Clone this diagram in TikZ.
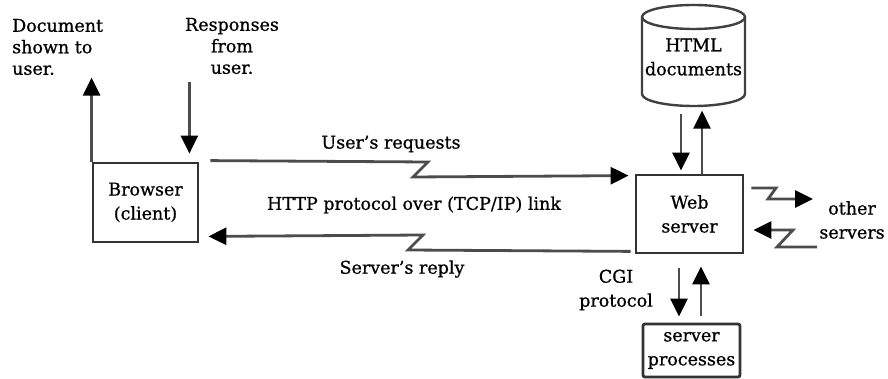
\documentclass[tikz,border=0pt]{standalone}
\usepackage{fontspec}
\setmainfont[FakeBold=0.8]{DejaVu Serif}
\usetikzlibrary{arrows.meta,calc}
\begin{document}
\begin{tikzpicture}[x=1pt,y=-1pt,
  txt/.style={font=\fontsize{17.5}{24}\selectfont, inner sep=0pt, align=center, text=black},
  txttop/.style={font=\fontsize{17.5}{21.5}\selectfont, inner sep=0pt, text=black},
  box/.style={draw=black!80, line width=2.8pt, inner sep=0pt},
  ln/.style={draw=black!70, line width=2.8pt},
  arr/.style={ln, -{Triangle[length=18pt,width=17pt,color=black]}}]
\useasboundingbox (0,0) rectangle (888,379);

% boxes
\node[box, txt, minimum width=105pt, minimum height=79pt] (browser) at (145.5,202.5) {Browser\\(client)};
\node[box, txt, minimum width=107pt, minimum height=78pt] (web) at (689.5,214) {Web\\server};
\node[box, txt, rounded corners=2pt, minimum width=97pt, minimum height=53pt] (procs) at (691.5,350.5) {server\\processes};

% cylinder
\draw[draw=black!75, line width=2.4pt] (693.5,17) ellipse [x radius=51.5pt, y radius=12pt];
\draw[draw=black!75, line width=2.4pt] (642,17) -- (642,94) arc[start angle=180, end angle=360, x radius=51.5pt, y radius=12pt] -- (745,17);
\node[txt, minimum width=103pt, minimum height=102pt] (html) at (693.5,57) {HTML\\documents};

% texts
\node[txttop, align=left, anchor=west] (txtdoc) at (12,47) {Document\\shown to\\user.};
\node[txttop, align=center] (txtresp) at (232,46) {Responses\\from\\user.};
\node[txt] (txtreq) at (391,144) {User's requests};
\node[txt] (txthttp) at (414,205) {HTTP protocol over (TCP/IP) link};
\node[txt] (txtreply) at (402,269) {Server's reply};
\node[txt] (txtcgi) at (616,290) {CGI\\protocol};
\node[txt] (txtother) at (852,220) {other\\servers};

% user arrows
\draw[arr] (browser.north west) -- ++(0,-84);
\draw[arr] ($(browser.north east)+(-10,-80)$) -- ($(browser.north east)+(-10,-8)$);

% HTTP link
\draw[arr] ($(browser.north east)+(11,-1)$) -- (428,162) -- (413,177) -- ($(web.north west)+(-6,2)$);
\draw[arr] ($(web.south west)+(-4,-3)$) -- (408,250) -- (423,235) -- ($(browser.south east)+(9,-7)$);

% cylinder arrows
\draw[arr] ($(web.north)+(-8.5,-60)$) -- ($(web.north)+(-8.5,-3)$);
\draw[arr] ($(web.north)+(12.5,0)$) -- ($(web.north)+(12.5,-63)$);

% CGI arrows
\draw[arr] ($(web.south)+(-10.5,14)$) -- ($(procs.north)+(-12.5,-6)$);
\draw[arr] ($(procs.north)+(9.5,-7)$) -- ($(web.south)+(11.5,12)$);

% other servers
\draw[arr] ($(web.east)+(7,-26)$) -- (776,188) -- (768,199) -- (813,199);
\draw[arr] (817,247) -- (777,247) -- (793,230) -- ($(web.east)+(9,16)$);
\end{tikzpicture}
\end{document}
